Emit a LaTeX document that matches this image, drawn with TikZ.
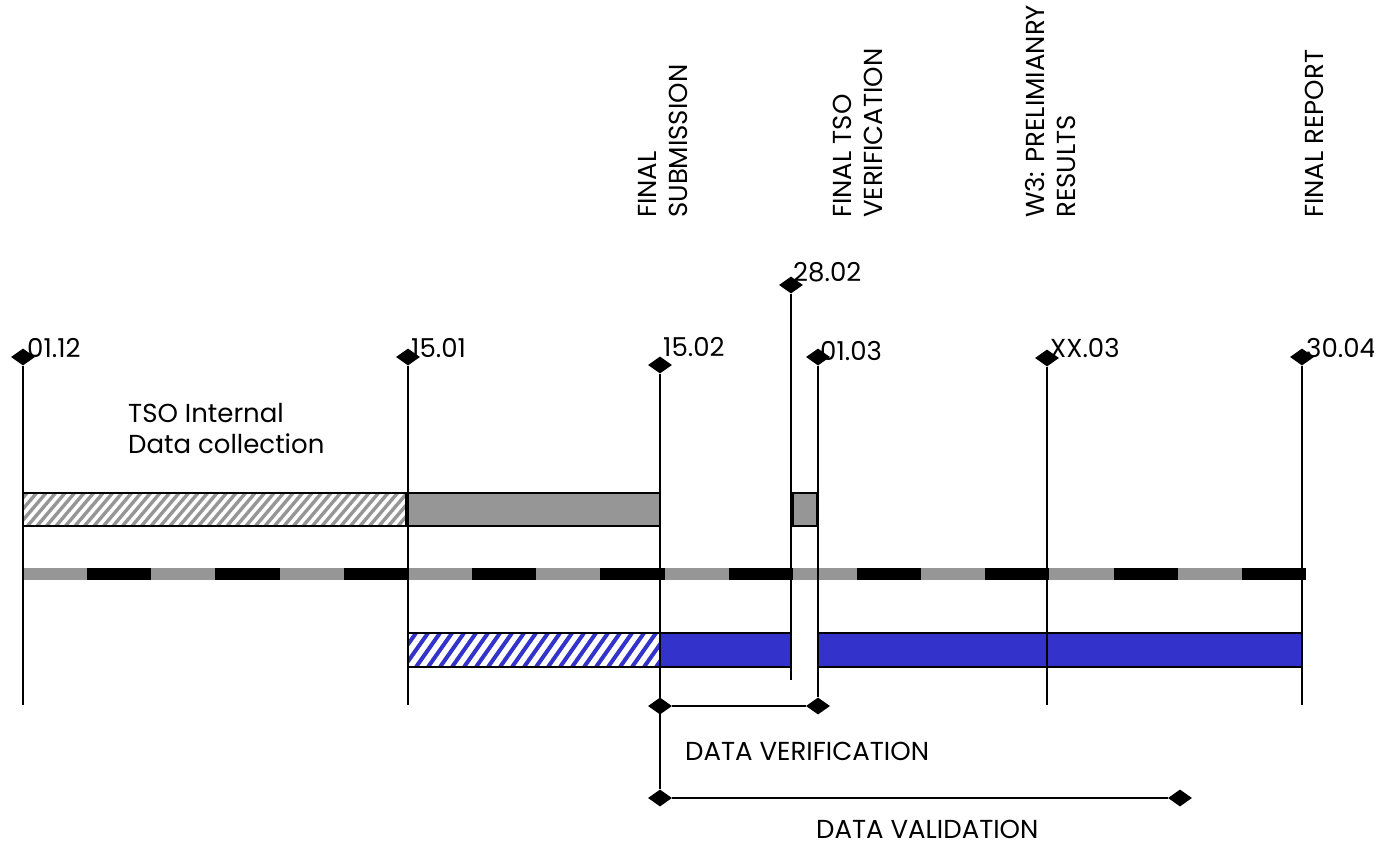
\documentclass[tikz,border=0pt]{standalone}
\usepackage{fontspec}
\setmainfont{Poppins}
\usetikzlibrary{shapes.geometric}
\definecolor{barGray}{RGB}{150,150,150}
\definecolor{barBlue}{RGB}{51,51,204}
\begin{document}
\begin{tikzpicture}[x=1pt,y=-1pt,
  ms/.style={shape=diamond, fill=black, draw=none, inner sep=0pt, minimum width=24pt, minimum height=17pt},
  vline/.style={line width=2.2pt},
  datelbl/.style={font=\fontsize{26}{30}\selectfont, inner sep=0pt, anchor=base west},
  lbl/.style={font=\fontsize{26}{31}\selectfont, inner sep=0pt, anchor=base west, align=left},
  rlbl/.style={font=\fontsize{26}{31}\selectfont, inner sep=0pt, rotate=90, anchor=north west, align=left},
  barbox/.style={draw=black, line width=1.6pt},
  grayhatch/.style={barGray, line width=3.4pt},
  bluehatch/.style={barBlue, line width=4pt},
]
\useasboundingbox (0,0) rectangle (1374,846);

% ---- gray (TSO) bars ----
\begin{scope}
  \clip (23,493) rectangle (406,526);
  \foreach \i in {0,...,45} \draw[grayhatch] ({\i*9.5-20},526) -- ++(28,-33);
\end{scope}
\draw[barbox] (23,493) rectangle (406,526);
\draw[barbox, fill=barGray] (408,493) rectangle (660,526);
\draw[barbox, fill=barGray] (793,493) rectangle (817,526);

% ---- dashed time line ----
\draw[barGray, line width=12pt] (23,574) -- (1306,574);
\draw[black, line width=12pt, dash pattern=on 64.15pt off 64.15pt, dash phase=64.15pt] (23,574) -- (1306,574);

% ---- blue bars ----
\begin{scope}
  \clip (408,633) rectangle (660,667);
  \foreach \i in {0,...,25} \draw[bluehatch] ({380+\i*12},667) -- ++(24,-34);
\end{scope}
\draw[barbox] (408,633) rectangle (660,667);
\draw[barbox, fill=barBlue] (660,633) rectangle (791,667);
\draw[barbox, fill=barBlue] (818,633) rectangle (1047,667);
\draw[barbox, fill=barBlue] (1047,633) rectangle (1302,667);

% ---- milestones ----
\node[ms] (m1) at (23,357) {};
\node[ms] (m2) at (408,357) {};
\node[ms] (m3) at (660,365) {};
\node[ms] (m4) at (791,285) {};
\node[ms] (m5) at (818,357) {};
\node[ms] (m6) at (1047,358) {};
\node[ms] (m7) at (1302,357) {};

\node[ms] (v1) at (660,706) {};
\node[ms] (v2) at (818,706) {};
\node[ms] (w1) at (660,798) {};
\node[ms] (w2) at (1180,798) {};

\coordinate (e1) at (23,705);
\coordinate (e2) at (408,705);
\coordinate (e4) at (791,680);
\coordinate (e6) at (1047,705);
\coordinate (e7) at (1302,705);

\draw[vline] (m1.south) -- (e1);
\draw[vline] (m2.south) -- (e2);
\draw[vline] (m3.south) -- (w1.north);
\draw[vline] (m4.south) -- (e4);
\draw[vline] (m5.south) -- (v2.north);
\draw[vline] (m6.south) -- (e6);
\draw[vline] (m7.south) -- (e7);
\draw[vline] (v1.east) -- (v2.west);
\draw[vline] (w1.east) -- (w2.west);

% ---- date labels ----
\node[datelbl] (t1) at (27,357) {01.12};
\node[datelbl] (t2) at (411,357) {15.01};
\node[datelbl] (t3) at (663,356) {15.02};
\node[datelbl] (t4) at (793,281) {28.02};
\node[datelbl] (t5) at (820,360) {01.03};
\node[datelbl] (t6) at (1050,357) {XX.03};
\node[datelbl] (t7) at (1306,357) {30.04};

% ---- text labels ----
\node[lbl] (tso) at (128,453) {TSO Internal\\Data collection};
\node[lbl] (dver) at (685,760) {DATA VERIFICATION};
\node[lbl] (dval) at (816,838) {DATA VALIDATION};

% ---- rotated milestone labels ----
\node[rlbl] (r1) at (638,218) {FINAL\\SUBMISSION};
\node[rlbl] (r2) at (833,218) {FINAL TSO\\VERIFICATION};
\node[rlbl] (r3) at (1025,218) {W3: PRELIMIANRY\\RESULTS};
\node[rlbl] (r4) at (1305,218) {FINAL REPORT};
\end{tikzpicture}
\end{document}
